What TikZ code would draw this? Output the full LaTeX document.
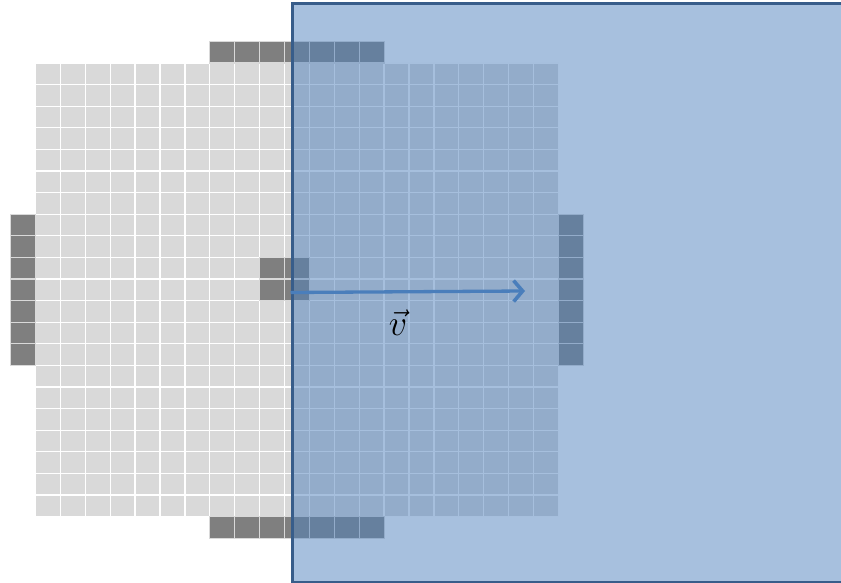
\documentclass[tikz,border=0pt]{standalone}
\usepackage{graphicx}
\usetikzlibrary{arrows.meta}
\definecolor{cellgray}{HTML}{D9D9D9}
\definecolor{darkcell}{HTML}{7F7F7F}
\definecolor{officeblue}{HTML}{4F81BD}
\definecolor{borderblue}{HTML}{385D8A}
\definecolor{arrowblue}{HTML}{4A7EBB}
\tikzset{
  lightcell/.style={fill=cellgray, draw=white, line width=1.3pt},
  darkbox/.style={fill=darkcell, draw=white!85!black, line width=1.1pt},
  window/.style={fill=officeblue, fill opacity=0.5, draw=borderblue, draw opacity=1, line width=3pt},
  velarrow/.style={draw=arrowblue, line width=3.3pt, -{Straight Barb[length=9pt,width=21pt,line width=3.6pt]}},
}
\begin{document}
\begin{tikzpicture}[x=1pt,y=-1pt]
\useasboundingbox (0,0) rectangle (841,583);
\clip (0,0) rectangle (841,583);
% main grid 21 x 21
\foreach \i in {0,...,20}{
  \foreach \j in {0,...,20}{
    \path[lightcell] ({35.5+\i*24.9},{63+\j*21.6}) rectangle ++(24.9,21.6);
  }
}
% dark cells: top and bottom rows
\foreach \i in {7,...,13}{
  \path[darkbox] ({35.5+\i*24.9},{63-21.6}) rectangle ++(24.9,21.6);
  \path[darkbox] ({35.5+\i*24.9},{63+21*21.6}) rectangle ++(24.9,21.6);
}
% dark cells: left and right columns
\foreach \j in {7,...,13}{
  \path[darkbox] ({35.5-24.9},{63+\j*21.6}) rectangle ++(24.9,21.6);
  \path[darkbox] ({35.5+21*24.9},{63+\j*21.6}) rectangle ++(24.9,21.6);
}
% central 2x2
\foreach \i in {9,10}{
  \foreach \j in {9,10}{
    \path[darkbox] ({35.5+\i*24.9},{63+\j*21.6}) rectangle ++(24.9,21.6);
  }
}
% translucent window
\node[window, inner sep=0pt, minimum width=560pt, minimum height=579pt, anchor=north west] (win) at (290.5,2) {};
% velocity arrow
\coordinate (vstart) at (290.5,292.5);
\coordinate (vend) at (525,291);
\draw[velarrow] (vstart) -- (vend);
\node[inner sep=0pt] (vlabel) at (398,323) {\scalebox{1.45}{\fontsize{24.88}{28}\selectfont$\vec{v}$}};
\end{tikzpicture}
\end{document}
